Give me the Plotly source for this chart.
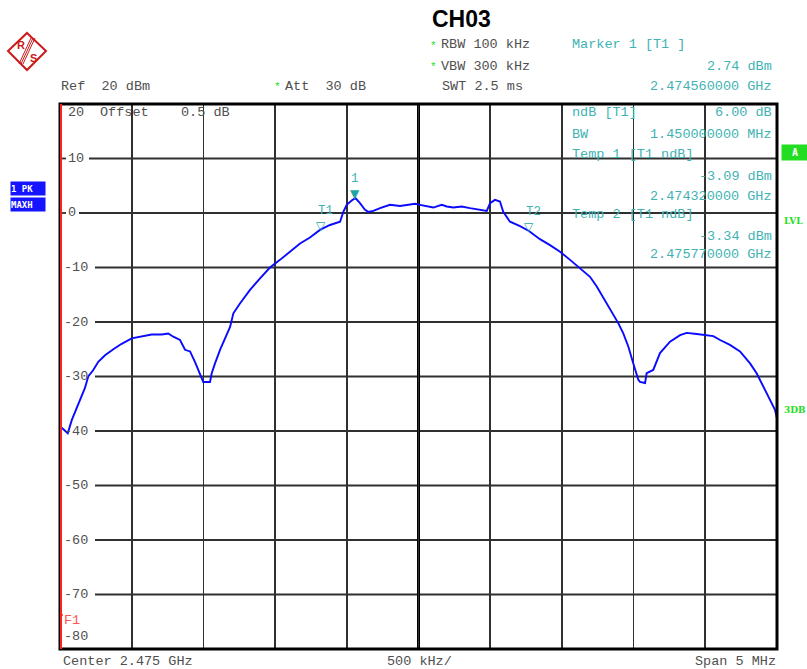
import plotly.graph_objects as go

# ---------------- data ----------------
center_ghz = 2.475
span_mhz = 5.0
ref_level = 20
bottom_level = -80

offset_mhz = [-2.500, -2.446, -2.418, -2.384, -2.349, -2.326, -2.303, -2.268, -2.233, -2.186,
              -2.128, -2.070, -2.000, -1.930, -1.861, -1.791, -1.745, -1.710, -1.663, -1.628,
              -1.593, -1.559, -1.524, -1.501, -1.454, -1.442, -1.419, -1.384, -1.314, -1.291,
              -1.245, -1.175, -1.105, -1.036, -0.966, -0.896, -0.826, -0.757, -0.687, -0.617,
              -0.547, -0.524, -0.501, -0.466, -0.440, -0.408, -0.373, -0.350, -0.315, -0.268,
              -0.199, -0.129, -0.082, -0.024, 0.010, 0.057, 0.103, 0.162, 0.197, 0.243,
              0.301, 0.359, 0.429, 0.476, 0.499, 0.533, 0.568, 0.591, 0.638, 0.708,
              0.770, 0.847, 0.917, 0.987, 1.057, 1.126, 1.196, 1.243, 1.312, 1.358,
              1.393, 1.428, 1.463, 1.498, 1.533, 1.545, 1.580, 1.591, 1.637, 1.684,
              1.754, 1.824, 1.870, 1.940, 2.010, 2.056, 2.103, 2.172, 2.242, 2.312,
              2.358, 2.404, 2.451, 2.486, 2.500]
level_dbm = [-39.1, -40.4, -38.0, -35.8, -33.7, -32.1, -30.0, -28.8, -27.3, -26.1,
             -25.0, -24.0, -23.0, -22.6, -22.3, -22.3, -22.1, -22.7, -23.3, -25.1,
             -25.4, -27.3, -29.7, -31.0, -31.0, -29.4, -27.6, -25.1, -20.9, -18.4,
             -16.6, -14.1, -12.0, -10.0, -8.6, -7.1, -5.6, -4.5, -3.1, -2.2,
             -1.6, 0.2, 1.5, 2.3, 2.74, 1.8, 0.6, 0.2, 0.4, 0.9,
             1.5, 1.3, 1.5, 1.7, 1.5, 1.2, 1.0, 1.5, 1.2, 1.0,
             1.2, 0.9, 0.6, 0.4, 1.8, 2.4, 2.1, 0.2, -1.6, -2.4,
             -3.3, -4.8, -5.9, -7.1, -8.6, -10.1, -11.7, -13.5, -16.6, -18.4,
             -20.2, -22.1, -24.5, -27.6, -30.6, -31.0, -31.2, -29.4, -28.8, -25.7,
             -23.6, -22.4, -22.0, -22.2, -22.4, -22.6, -23.3, -24.2, -25.4, -27.6,
             -29.4, -31.9, -34.3, -36.1, -37.7]

marker_names = ["1", "T1", "T2"]
marker_freq_ghz = [2.474560, 2.474320, 2.475770]
marker_level = [2.74, -3.09, -3.34]

y_tick_values = [20, 10, 0, -10, -20, -30, -40, -50, -60, -70, -80]

# ---------------- figure ----------------
W, H = 807, 669
L, R, T, B = 60, 777, 104, 649

freq_ghz = [center_ghz + f / 1000.0 for f in offset_mhz]
x0 = center_ghz - span_mhz / 2000.0
x1 = center_ghz + span_mhz / 2000.0

fig = go.Figure()
fig.add_trace(go.Scatter(x=freq_ghz, y=level_dbm, mode="lines",
                         line=dict(color="#0a0aff", width=1.9), hoverinfo="skip",
                         showlegend=False))

MONO = "Liberation Mono"
GRAY = "#505050"
TEAL = "#3fb3b3"
GREEN = "#22dd22"
GRID = "#303030"
FS = 13.5


def px(xp):
    return (xp - L) / (R - L)


def py(yp):
    return (B - yp) / (B - T)


ann = []
shapes = []


def text(t, xp, yp, anchor="left", color=GRAY, size=FS, family=MONO, bg=None, **kw):
    d = dict(text=t, x=px(xp), y=py(yp), xref="paper", yref="paper", showarrow=False,
             xanchor=anchor, yanchor="middle", font=dict(family=family, size=size, color=color),
             borderpad=0)
    if bg:
        d["bgcolor"] = bg
    d.update(kw)
    ann.append(d)


# title
text("<b>CH03</b>", 431, 19, size=23, color="#000000", family="Liberation Sans")
# header lines
text("*", 433, 46, anchor="center", color=GREEN, size=11)
text("RBW 100 kHz", 440, 45)
text("*", 433, 67, anchor="center", color=GREEN, size=11)
text("VBW 300 kHz", 440, 66)
text("SWT 2.5 ms", 441, 86)
text("Marker 1 [T1 ]", 571, 45, color=TEAL)
text("2.74 dBm", 773, 66, anchor="right", color=TEAL)
text("2.474560000 GHz", 773, 86, anchor="right", color=TEAL)
text("Ref  20 dBm", 60, 86)
text("*", 277, 87, anchor="center", color=GREEN, size=11)
text("Att  30 dB", 284, 86)

# inside plot (top-left)
text("Offset", 99, 113)
text("0.5 dB", 180, 113)

# marker info block
text("ndB [T1]", 571, 113, color=TEAL)
text("6.00 dB", 773, 113, anchor="right", color=TEAL)
text("BW", 571, 134, color=TEAL)
text("1.450000000 MHz", 773, 134, anchor="right", color=TEAL)
text("Temp 1 [T1 ndB]", 571, 155, color=TEAL)
text("-3.09 dBm", 773, 176, anchor="right", color=TEAL)
text("2.474320000 GHz", 773, 197, anchor="right", color=TEAL)
text("Temp 2 [T1 ndB]", 571, 215, color=TEAL)
text("-3.34 dBm", 773, 236, anchor="right", color=TEAL)
text("2.475770000 GHz", 773, 255, anchor="right", color=TEAL)

# bottom texts
text("Center 2.475 GHz", 62, 661)
text("500 kHz/", 419, 661, anchor="center")
text("Span 5 MHz", 777, 661, anchor="right")

# F1 line label
text("F1", 63, 620, color="#ff5555")

# y tick labels, horizontal grid lines broken around them
for v in y_tick_values:
    yline = T + (ref_level - v) * (B - T) / (ref_level - bottom_level)
    lab = str(v)
    xl = 63 if v < 0 else 67
    if v == ref_level:
        text(lab, xl, 113)
        continue
    if v == bottom_level:
        text(lab, xl, 636)
        continue
    text(lab, xl, yline)
    gap_end = xl + 10 * len(lab) + 2
    shapes.append(dict(type="line", xref="paper", yref="y", x0=0, x1=px(xl - 1), y0=v, y1=v,
                       line=dict(color=GRID, width=1.8), layer="below"))
    shapes.append(dict(type="line", xref="paper", yref="y", x0=px(gap_end), x1=1, y0=v, y1=v,
                       line=dict(color=GRID, width=1.8), layer="below"))

# left side boxes
text("<b>1 PK</b>", 10, 188, color="white", size=9, family="DejaVu Sans Mono", bg="#1414ff",
     width=34, height=13, align="left")
text("<b>MAXH</b>", 10, 205, color="white", size=9, family="DejaVu Sans Mono", bg="#1414ff",
     width=34, height=13, align="left")
# right side
text("<b>A</b>", 781, 152, color="white", size=10, family="DejaVu Sans Mono", bg=GREEN,
     width=26, height=15, align="center")
text("<b>LVL</b>", 783, 221, color=GREEN, size=9, family="DejaVu Serif")
text("<b>3DB</b>", 783, 410, color=GREEN, size=9, family="DejaVu Serif")

# markers (triangles and labels anchored to marker data)
for name, fx, lv in zip(marker_names, marker_freq_ghz, marker_level):
    filled = name == "1"
    ann.append(dict(text="▼" if filled else "▽", x=fx, y=lv, xref="x", yref="y",
                    showarrow=False, yanchor="bottom", yshift=-5,
                    font=dict(family="DejaVu Sans", size=12, color="#1fa5a5")))
    ann.append(dict(text=name, x=fx, y=lv, xref="x", yref="y", showarrow=False,
                    xshift=0 if filled else 5, yshift=19, yanchor="middle",
                    font=dict(family=MONO, size=12.5, color=TEAL)))

# centre line
shapes.append(dict(type="line", xref="x", yref="paper", x0=center_ghz, x1=center_ghz, y0=0, y1=1,
                   line=dict(color="#000000", width=3), layer="below"))
# frame
shapes.append(dict(type="rect", xref="paper", yref="paper", x0=0, x1=1, y0=0, y1=1,
                   line=dict(color="#000000", width=3)))
# red display line at left edge
shapes.append(dict(type="line", xref="paper", yref="paper", xsizemode="pixel", xanchor=0,
                   x0=1, x1=1, y0=0, y1=1, line=dict(color="#ff2020", width=2)))
shapes.append(dict(type="line", xref="paper", yref="paper", xsizemode="pixel", xanchor=0,
                   x0=1, x1=3, y0=py(615), y1=py(615), line=dict(color="#ff2020", width=1.5)))

# R&S logo
red = "#cc1a1a"
shapes.append(dict(type="path", xref="paper", yref="paper",
                   path="M {a},{b} L {c},{d} L {e},{f} L {g},{h} Z".format(
                       a=px(27), b=py(33), c=px(46), d=py(51), e=px(27), f=py(70), g=px(8), h=py(51)),
                   line=dict(color=red, width=2)))
for k in (-2, 0, 2):
    shapes.append(dict(type="line", xref="paper", yref="paper",
                       x0=px(33 + k), y0=py(38), x1=px(21 + k), y1=py(64),
                       line=dict(color=red, width=1)))
text("<b>R</b>", 21, 45, anchor="center", color=red, size=11, family="Liberation Sans")
text("<b>S</b>", 33, 58, anchor="center", color=red, size=11, family="Liberation Sans")

fig.update_layout(
    width=W, height=H,
    margin=dict(l=L, r=W - R, t=T, b=H - B, pad=0),
    paper_bgcolor="white", plot_bgcolor="white",
    showlegend=False,
    xaxis=dict(range=[x0, x1], showticklabels=False, ticks="", showgrid=True,
               tick0=x0, dtick=0.0005, gridcolor=GRID, gridwidth=1.8, zeroline=False,
               showline=False, fixedrange=True),
    yaxis=dict(range=[bottom_level, ref_level], showticklabels=False, ticks="", showgrid=False,
               zeroline=False, showline=False, fixedrange=True),
    annotations=ann,
    shapes=shapes,
)

fig.write_html("out.html", config={"displayModeBar": False, "staticPlot": True},
               post_script="document.body.style.margin='0';")
